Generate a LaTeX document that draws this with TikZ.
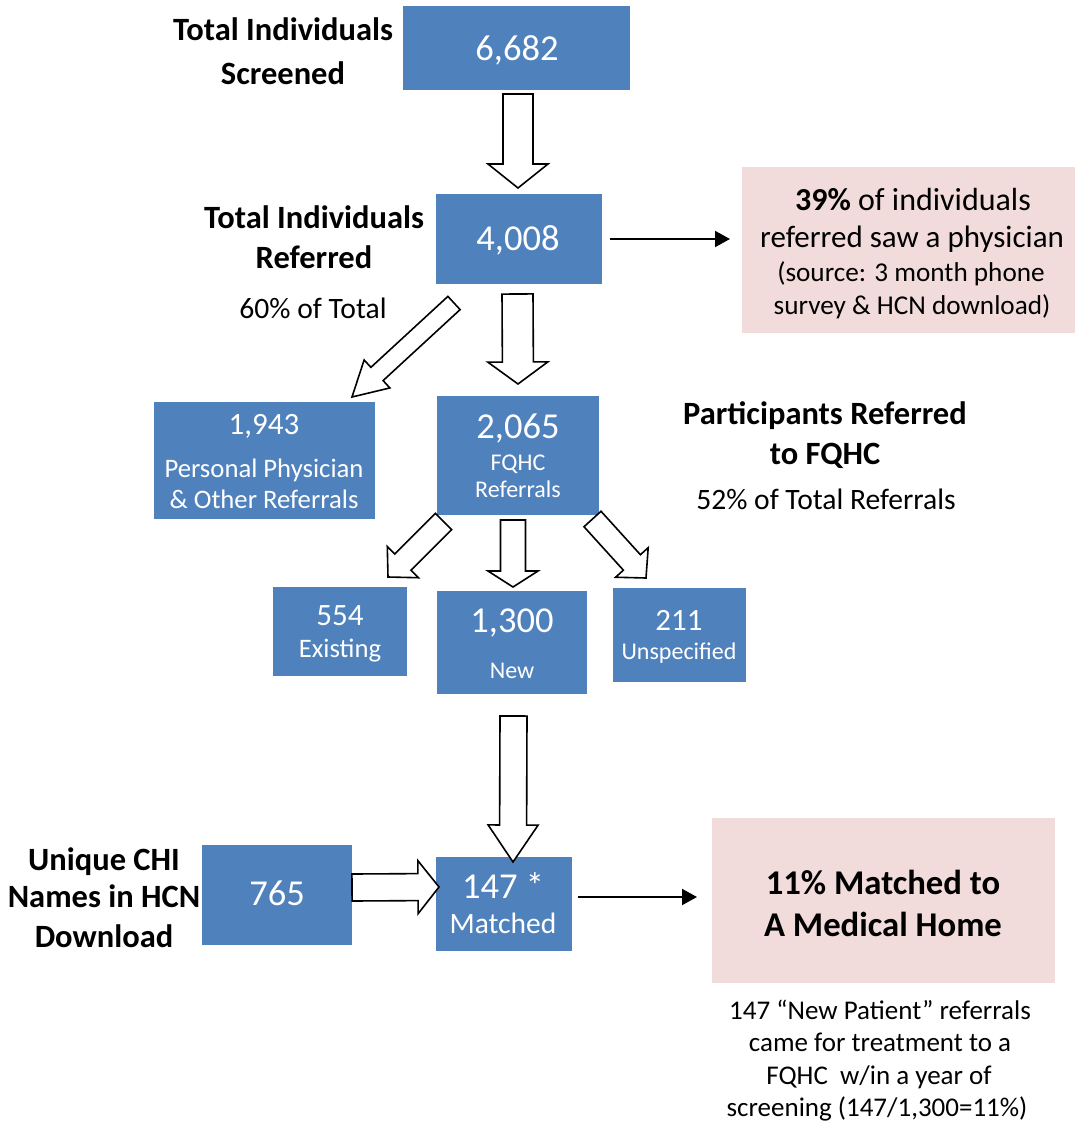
\documentclass[tikz,border=0pt]{standalone}
\usepackage{fontspec}
\setmainfont{Carlito}
\usetikzlibrary{calc,arrows.meta}
\definecolor{boxblue}{HTML}{4F81BD}
\definecolor{boxpink}{HTML}{F2DCDB}
\tikzset{
 bluebox/.style={fill=boxblue, draw=none, inner sep=0pt, outer sep=0pt},
 pinkbox/.style={fill=boxpink, draw=none, inner sep=0pt, outer sep=0pt},
 txt/.style={inner sep=0pt, outer sep=0pt, anchor=base},
 wnum/.style={txt, text=white, font=\fontsize{36.5}{40}\selectfont},
 wsnum/.style={txt, text=white, font=\fontsize{31}{34}\selectfont},
 wsub/.style={txt, text=white, font=\fontsize{26.7}{30}\selectfont},
 wsubs/.style={txt, text=white, font=\fontsize{24}{28}\selectfont},
 blab/.style={txt, font=\bfseries\fontsize{32.5}{36}\selectfont},
 rlab/.style={txt, font=\fontsize{29.6}{32}\selectfont},
 pinkone/.style={txt, font=\fontsize{32}{36}\selectfont},
 pinktwo/.style={txt, font=\fontsize{31}{36}\selectfont},
 pinksmall/.style={txt, font=\fontsize{27.2}{32}\selectfont},
 pinkbold/.style={txt, font=\bfseries\fontsize{34.7}{38}\selectfont},
 note/.style={txt, font=\fontsize{27}{30}\selectfont},
 barrow/.style={draw=black, fill=white, line width=1.6pt, line join=miter},
 thinarrow/.style={line width=2pt, -{Triangle[length=15pt,width=16pt]}},
}
% #1 tail, #2 tip, #3 shaft half width, #4 head half width, #5 head length (all pt)
\newcommand\blockarrow[5]{%
 \coordinate (ba) at (#1);
 \coordinate (bb) at (#2);
 \coordinate (bh) at ($(bb)!#5pt!(ba)$);
 \draw[barrow] ($(ba)!#3pt!90:(bb)$) -- ($(bh)!#3pt!-90:(ba)$) -- ($(bh)!#4pt!-90:(ba)$)
   -- (bb) -- ($(bh)!#4pt!90:(ba)$) -- ($(bh)!#3pt!90:(ba)$) -- ($(ba)!#3pt!-90:(bb)$) -- cycle;
}
\begin{document}
\begin{tikzpicture}[x=1pt,y=-1pt]
\useasboundingbox (0,0) rectangle (1075,1122);
\fill[white] (0,0) rectangle (1075,1122);

% boxes
\node[bluebox, minimum width=227pt, minimum height=84pt] (b1) at (516.5,48) {};
\node[bluebox, minimum width=166pt, minimum height=90pt] (b2) at (519,239) {};
\node[pinkbox, minimum width=333pt, minimum height=166pt] (p1) at (908.5,250) {};
\node[bluebox, minimum width=221pt, minimum height=117pt] (b3) at (264.5,460.5) {};
\node[bluebox, minimum width=162pt, minimum height=119pt] (b4) at (518,455.5) {};
\node[bluebox, minimum width=134pt, minimum height=89pt] (b5) at (340,631.5) {};
\node[bluebox, minimum width=150pt, minimum height=103pt] (b6) at (512,642.5) {};
\node[bluebox, minimum width=133pt, minimum height=94pt] (b7) at (679.5,635) {};
\node[bluebox, minimum width=150pt, minimum height=100pt] (b8) at (277,895) {};
\node[bluebox, minimum width=136pt, minimum height=94pt] (b9) at (504,904) {};
\node[pinkbox, minimum width=343pt, minimum height=165pt] (p2) at (883.5,900.5) {};

% texts
\node[wnum] (t1) at (517,60) {6,682};
\node[blab] (l1a) at (283,40) {Total Individuals};
\node[blab] (l1b) at (283,84) {Screened};

\node[wnum] (t2) at (518,250) {4,008};
\node[blab] (l2a) at (314,228) {Total Individuals};
\node[blab] (l2b) at (314,268) {Referred};
\node[rlab] (l2c) at (313,318) {60\% of Total};

\node[pinkone] (p1a) at (913,210) {\textbf{39\%} of individuals};
\node[pinktwo] (p1b) at (912,247) {referred saw a physician};
\node[pinksmall] (p1c) at (911,281) {(source: 3 month phone};
\node[pinksmall] (p1d) at (912,314) {survey \& HCN download)};

\node[wsnum] (t3) at (264,434) {1,943};
\node[wsub] (t3a) at (264,477) {Personal Physician};
\node[wsub] (t3b) at (264,508) {\& Other Referrals};

\node[wnum] (t4) at (518,438) {2,065};
\node[wsubs] (t4a) at (518,470) {FQHC};
\node[wsubs] (t4b) at (518,497) {Referrals};

\node[blab] (l4a) at (825,424) {Participants Referred};
\node[blab] (l4b) at (825,464) {to FQHC};
\node[rlab] (l4c) at (826,509) {52\% of Total Referrals};

\node[wsnum] (t5) at (340,625) {554};
\node[wsub] (t5a) at (340,657) {Existing};
\node[wnum] (t6) at (512,632) {1,300};
\node[wsubs] (t6a) at (512,678) {New};
\node[wsnum] (t7) at (679,630) {211};
\node[wsubs] (t7a) at (679,659) {Unspecified};

\node[blab] (l8a) at (104,870) {Unique CHI};
\node[blab] (l8b) at (104,907) {Names in HCN};
\node[blab] (l8c) at (104,947) {Download};
\node[wnum] (t8) at (277,905) {765};
\node[wnum] (t9) at (503,898) {147 *};
\node[wsub, font=\fontsize{29.5}{32}\selectfont] (t9a) at (503,933) {Matched};

\node[pinkbold] (p2a) at (883,894) {11\% Matched to};
\node[pinkbold] (p2b) at (883,936) {A Medical Home};

\node[note] (n1) at (880,1019) {147 “New Patient” referrals};
\node[note] (n2) at (880,1051) {came for treatment to a};
\node[note] (n3) at (879,1084) {FQHC\ \ w/in a year of};
\node[note] (n4) at (877,1116) {screening (147/1,300=11\%)};

% block arrows
\blockarrow{$(b1.south)+(1.5,4)$}{$(b2.north)+(-1,-6)$}{15}{30}{24}
\blockarrow{$(b2.south)+(-1.5,10)$}{$(b4.north)+(0,-12)$}{15.5}{30}{22}
\blockarrow{$(b2.south west)+(18,19)$}{$(b3.north east)+(-23,-5)$}{9}{19}{34}
\blockarrow{$(b4.south west)+(6.5,6.5)$}{$(b5.north east)+(-19,-10)$}{11.5}{22}{21}
\blockarrow{$(b4.south)+(-5,5)$}{$(b6.north)+(1,-4)$}{12.5}{25}{16}
\blockarrow{$(b4.south east)+(-6.5,4)$}{$(b7.north west)+(33,-10)$}{11.5}{22}{21}
\blockarrow{$(b6.south)+(1.5,22)$}{$(b9.north)+(9,5)$}{13.5}{25}{37}
\blockarrow{$(b8.east)+(0,-7.5)$}{$(b9.west)+(3,-17)$}{13.5}{26.5}{21}

% thin arrows
\draw[thinarrow] ($(b2.east)+(8,0)$) -- ($(p1.west)+(-12,-11)$);
\draw[thinarrow] ($(b9.east)+(6,-7)$) -- ($(p2.west)+(-15,-3.5)$);
\end{tikzpicture}
\end{document}
